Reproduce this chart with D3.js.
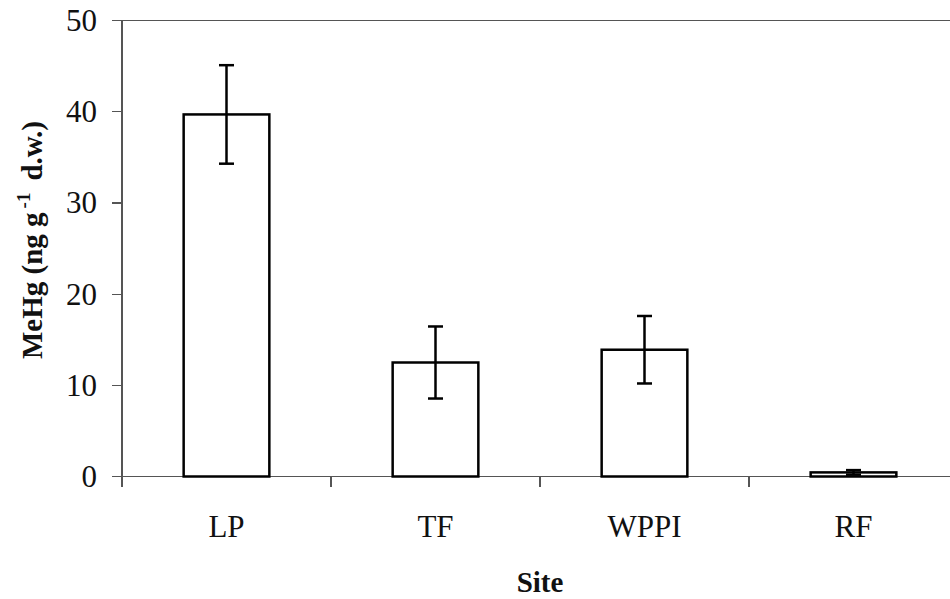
<!DOCTYPE html>
<html>
<head>
<meta charset="utf-8">
<script src="https://cdn.jsdelivr.net/npm/d3@7/dist/d3.min.js"></script>
<style>
  body { margin: 0; background: #fff; }
  svg { display: block; }
  .axis-line { stroke: #555; stroke-width: 1.2; shape-rendering: crispEdges; }
  .tick-label { font-family: 'Liberation Serif', 'Times New Roman', serif; font-size: 31px; fill: #111; }
  .title { font-family: 'Liberation Serif', 'Times New Roman', serif; font-size: 29px; font-weight: bold; fill: #111; }
  .bar { fill: #fff; stroke: #000; stroke-width: 2.5; }
  .err { stroke: #000; stroke-width: 2.5; }
</style>
</head>
<body>
<svg id="chart" width="950" height="599"></svg>
<script>
// Values (MeHg, ng/g d.w.)
const sites = ['LP', 'TF', 'WPPI', 'RF'];
const means = [39.7, 12.5, 13.9, 0.45];
const errors = [5.4, 3.95, 3.7, 0.25];
const yTicks = [0, 10, 20, 30, 40, 50];

(() => {
  const chart = d3.select('#chart');
  const plotLeft = 122, plotRight = 958, plotTop = 20.5, plotBottom = 476.5;

  const x = d3.scaleBand().domain(sites).range([plotLeft, plotRight]).paddingInner(0.59).paddingOuter(0.295);
  const y = d3.scaleLinear().domain([0, 50]).range([plotBottom, plotTop]);
  const step = x.step();

  // frame: top line, y axis, x axis
  chart.append('line').attr('class', 'axis-line')
    .attr('x1', plotLeft - 10).attr('x2', plotRight).attr('y1', y(50)).attr('y2', y(50));
  chart.append('line').attr('class', 'axis-line')
    .attr('x1', plotLeft).attr('x2', plotLeft).attr('y1', y(50)).attr('y2', plotBottom + 10);
  chart.append('line').attr('class', 'axis-line')
    .attr('x1', plotLeft - 10).attr('x2', plotRight).attr('y1', plotBottom).attr('y2', plotBottom);

  // y ticks and labels
  const yAxis = chart.append('g');
  yAxis.selectAll('line').data(yTicks).join('line')
    .attr('class', 'axis-line')
    .attr('x1', plotLeft - 10).attr('x2', plotLeft)
    .attr('y1', d => y(d)).attr('y2', d => y(d));
  yAxis.selectAll('text').data(yTicks).join('text')
    .attr('class', 'tick-label')
    .attr('x', plotLeft - 25).attr('y', d => y(d)).attr('dy', '0.34em')
    .attr('text-anchor', 'end')
    .text(d => d);

  // category boundary ticks under the x axis
  const bounds = sites.map(s => x(s) + x.bandwidth() / 2 + step / 2);
  chart.selectAll('.xtick').data(bounds).join('line')
    .attr('class', 'axis-line xtick')
    .attr('x1', d => d).attr('x2', d => d)
    .attr('y1', plotBottom).attr('y2', plotBottom + 10);

  // category labels
  chart.selectAll('.xlabel').data(sites).join('text')
    .attr('class', 'tick-label xlabel')
    .attr('x', d => x(d) + x.bandwidth() / 2).attr('y', 537)
    .attr('text-anchor', 'middle')
    .text(d => d);

  // bars
  chart.selectAll('.bar').data(sites).join('rect')
    .attr('class', 'bar')
    .attr('x', d => x(d)).attr('width', x.bandwidth())
    .attr('y', (d, i) => y(means[i]))
    .attr('height', (d, i) => plotBottom - y(means[i]));

  // error bars
  const capW = 7.5;
  sites.forEach((s, i) => {
    const cx = x(s) + x.bandwidth() / 2;
    const hi = y(means[i] + errors[i]), lo = y(Math.max(0, means[i] - errors[i]));
    const g = chart.append('g');
    g.append('line').attr('class', 'err').attr('x1', cx).attr('x2', cx).attr('y1', hi).attr('y2', lo);
    g.append('line').attr('class', 'err').attr('x1', cx - capW).attr('x2', cx + capW).attr('y1', hi).attr('y2', hi);
    g.append('line').attr('class', 'err').attr('x1', cx - capW).attr('x2', cx + capW).attr('y1', lo).attr('y2', lo);
  });

  // axis titles
  chart.append('text').attr('class', 'title')
    .attr('x', (plotLeft + plotRight) / 2).attr('y', 592)
    .attr('text-anchor', 'middle')
    .text('Site');

  const yTitle = chart.append('text').attr('class', 'title')
    .attr('transform', 'translate(42,240) rotate(-90)')
    .attr('text-anchor', 'middle');
  yTitle.append('tspan').text('MeHg (ng g');
  yTitle.append('tspan').attr('dx', 4).attr('dy', -12).attr('font-size', '19px').text('-1');
  yTitle.append('tspan').attr('dx', 12).attr('dy', 12).text('d.w.)');
})();
</script>
</body>
</html>
